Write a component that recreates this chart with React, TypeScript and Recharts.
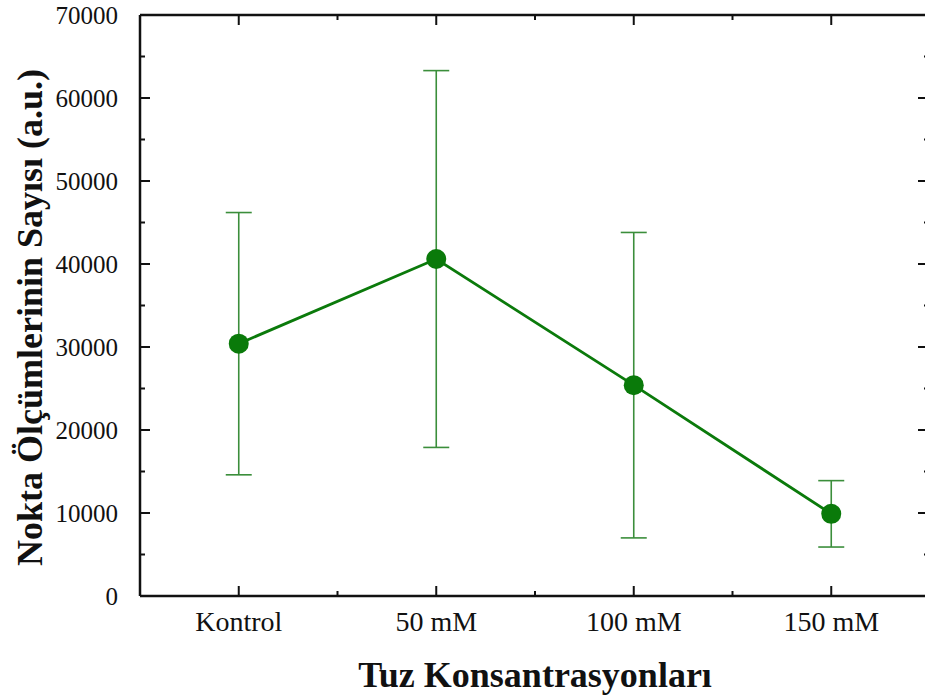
import React from 'react';
import {
  LineChart,
  Line,
  XAxis,
  YAxis,
  ErrorBar,
  Label,
} from 'recharts';

const categories = ['Kontrol', '50 mM', '100 mM', '150 mM'];
const means = [30400, 40600, 25400, 9900];
const sds = [15800, 22700, 18400, 4000];

const yTicks = [0, 5000, 10000, 15000, 20000, 25000, 30000, 35000, 40000, 45000, 50000, 55000, 60000, 65000, 70000];
const xTicks = [-0.5, 0, 0.5, 1, 1.5, 2, 2.5, 3, 3.5];

const data = categories.map((name, i) => ({
  x: i,
  name,
  mean: means[i],
  sd: sds[i],
}));

const FONT = '"Liberation Serif", "Times New Roman", serif';
const AXIS = '#111';
const GREEN = '#0b7a0b';

const isMajorY = (v: number) => v % 10000 === 0;
const isMajorX = (v: number) => Number.isInteger(v);

function LeftTick(props: any) {
  const { x, y, payload } = props;
  const major = isMajorY(payload.value);
  return (
    <g>
      <line x1={x} x2={x + (major ? 10 : 5)} y1={y} y2={y} stroke={AXIS} strokeWidth={2} />
      {major && (
        <text x={x - 22} y={y} dy={9} textAnchor="end" fontFamily={FONT} fontSize={25} fill="#111">
          {payload.value}
        </text>
      )}
    </g>
  );
}

function RightTick(props: any) {
  const { x, y, payload } = props;
  const major = isMajorY(payload.value);
  return <line x1={x} x2={x - (major ? 12 : 6)} y1={y} y2={y} stroke={AXIS} strokeWidth={2} />;
}

function BottomTick(props: any) {
  const { x, y, payload } = props;
  const major = isMajorX(payload.value);
  return (
    <g>
      <line x1={x} x2={x} y1={y} y2={y - (major ? 10 : 5)} stroke={AXIS} strokeWidth={2} />
      {major && (
        <text x={x} y={y + 35} textAnchor="middle" fontFamily={FONT} fontSize={28} fill="#111">
          {categories[payload.value]}
        </text>
      )}
    </g>
  );
}

function TopTick(props: any) {
  const { x, y, payload } = props;
  const major = isMajorX(payload.value);
  return <line x1={x} x2={x} y1={y} y2={y + (major ? 10 : 5)} stroke={AXIS} strokeWidth={2} />;
}

function YTitle(props: any) {
  const vb = props.viewBox;
  const cx = vb.x + 30;
  const cy = vb.y + vb.height / 2 + 12;
  return (
    <text
      x={cx}
      y={cy}
      transform={`rotate(-90, ${cx}, ${cy})`}
      textAnchor="middle"
      dominantBaseline="central"
      fontFamily={FONT}
      fontWeight="bold"
      fontSize={36}
      fill="#111"
    >
      Nokta Ölçümlerinin Sayısı (a.u.)
    </text>
  );
}

function XTitle(props: any) {
  const vb = props.viewBox;
  return (
    <text
      x={vb.x + vb.width / 2}
      y={vb.y + 91}
      textAnchor="middle"
      fontFamily={FONT}
      fontWeight="bold"
      fontSize={36}
      fill="#111"
    >
      Tuz Konsantrasyonları
    </text>
  );
}

export default function App() {
  return (
    <div style={{ position: 'absolute', left: 0, top: 0, width: 925, height: 698, overflow: 'hidden', background: '#fff' }}>
      <LineChart width={935} height={698} data={data} margin={{ top: 14, right: 0, bottom: 0, left: 0 }}>
        <XAxis
          dataKey="x"
          type="number"
          domain={[-0.5, 3.5]}
          ticks={xTicks}
          interval={0}
          height={102}
          tickSize={0}
          tickMargin={0}
          tickLine={false}
          axisLine={{ stroke: AXIS, strokeWidth: 2.5 }}
          tick={<BottomTick />}
        >
          <Label content={<XTitle />} />
        </XAxis>
        <XAxis
          xAxisId="top"
          orientation="top"
          dataKey="x"
          type="number"
          domain={[-0.5, 3.5]}
          ticks={xTicks}
          interval={0}
          height={1}
          tickSize={0}
          tickMargin={0}
          tickLine={false}
          axisLine={{ stroke: AXIS, strokeWidth: 2.5 }}
          tick={<TopTick />}
        />
        <YAxis
          type="number"
          domain={[0, 70000]}
          ticks={yTicks}
          interval={0}
          width={140}
          tickSize={0}
          tickMargin={0}
          tickLine={false}
          axisLine={{ stroke: AXIS, strokeWidth: 2.5 }}
          tick={<LeftTick />}
        >
          <Label content={<YTitle />} />
        </YAxis>
        <YAxis
          yAxisId="right"
          orientation="right"
          type="number"
          domain={[0, 70000]}
          ticks={yTicks}
          interval={0}
          width={5}
          tickSize={0}
          tickMargin={0}
          tickLine={false}
          axisLine={false}
          tick={<RightTick />}
        />
        {/* invisible series so the top/right frame axes get their ticks */}
        <Line
          xAxisId="top"
          yAxisId="right"
          dataKey="mean"
          stroke="none"
          dot={false}
          activeDot={false}
          legendType="none"
          isAnimationActive={false}
        />
        <Line
          dataKey="mean"
          stroke={GREEN}
          strokeWidth={2.8}
          dot={{ r: 10, fill: '#0a7a0a', stroke: 'none' }}
          activeDot={false}
          isAnimationActive={false}
        >
          <ErrorBar dataKey="sd" direction="y" width={13} stroke="#3b8e3b" strokeWidth={1.6} isAnimationActive={false} />
        </Line>
      </LineChart>
    </div>
  );
}
